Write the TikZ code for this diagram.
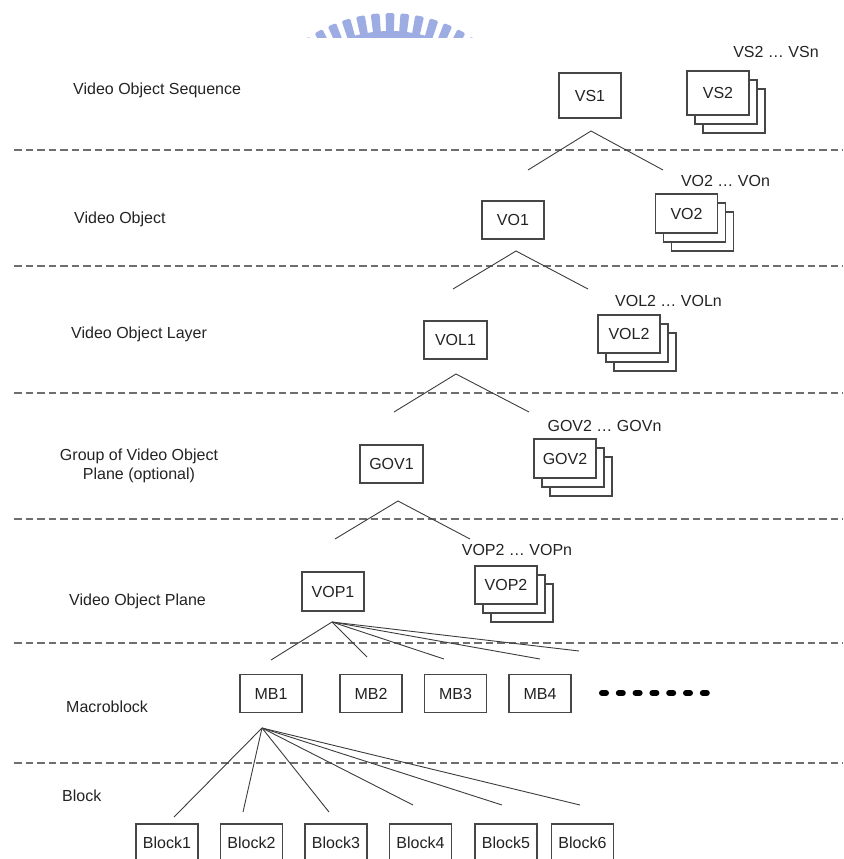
\documentclass[tikz,border=0pt]{standalone}
\usepackage{fontspec}
\setmainfont{Liberation Sans}
\definecolor{boxc}{RGB}{70,70,70}
\definecolor{txt}{RGB}{35,35,35}
\definecolor{dashc}{RGB}{110,110,110}
\definecolor{linec}{RGB}{60,60,60}
\definecolor{wm}{RGB}{158,172,228}
\begin{document}
\begin{tikzpicture}[x=1pt,y=-1pt,
  box/.style={draw=boxc, line width=1.2pt, fill=white, minimum width=62pt,
    minimum height=38pt, inner sep=0pt, text=txt, font=\fontsize{16}{19}\selectfont},
  lbl/.style={inner sep=0pt, text=txt, font=\fontsize{16}{19}\selectfont},
  sep/.style={draw=dashc, line width=1.3pt, dash pattern=on 7.5pt off 4pt},
  tree/.style={draw=linec, line width=0.9pt}]
\useasboundingbox (0,0) rectangle (843,859);

% watermark
\begin{scope}
  \clip (290,0) rectangle (490,38);
  \begin{scope}[shift={(390,163)}]
    \fill[wm] (0,0) circle (132);
    \foreach \k in {-6,...,6}{
      \pgfmathsetmacro{\a}{-90+\k*5.7}
      \fill[wm, rounded corners=1.5pt] (\a-1.7:128) -- (\a-1.7:150) -- (\a+1.7:150) -- (\a+1.7:128) -- cycle;
    }
  \end{scope}
\end{scope}

% separators
\foreach \yy in {150,266,393,519,643,763}{
  \draw[sep] (14,\yy) -- (843,\yy);
}

% level labels
\node[lbl, anchor=west] (l1) at (73,90) {Video Object Sequence};
\node[lbl, anchor=west] (l2) at (74,219) {Video Object};
\node[lbl, anchor=west] (l3) at (71,334) {Video Object Layer};
\node[lbl, align=center] (l4) at (139,466) {Group of Video Object\\Plane (optional)};
\node[lbl, anchor=west] (l5) at (69,601) {Video Object Plane};
\node[lbl, anchor=west] (l6) at (66,707) {Macroblock};
\node[lbl, anchor=west] (l7) at (62,796) {Block};

% first-of-level boxes
\node[box, minimum height=45pt] (vs1) at (590,95.5) {VS1};
\node[box] (vo1) at (513,220) {VO1};
\node[box, minimum width=63pt] (vol1) at (455.5,340) {VOL1};
\node[box, minimum width=63pt] (gov1) at (391.5,464) {GOV1};
\node[box, minimum height=39pt] (vop1) at (333,591.5) {VOP1};

% stacks
\node[box, minimum height=44pt] (vs2c) at (734,111) {};
\node[box, minimum height=44pt] (vs2b) at (726,102) {};
\node[box, minimum height=44pt] (vs2) at (718,93) {VS2};
\node[lbl] (vs2l) at (776,52) {VS2 … VSn};

\node[box, minimum height=39pt] (vo2c) at (702.5,231.5) {};
\node[box, minimum height=39pt] (vo2b) at (694.5,222.5) {};
\node[box, minimum height=39pt] (vo2) at (686.5,213.5) {VO2};
\node[lbl] (vo2l) at (725.5,181) {VO2 … VOn};

\node[box] (vol2c) at (645,352) {};
\node[box] (vol2b) at (637,343) {};
\node[box] (vol2) at (629,334) {VOL2};
\node[lbl] (vol2l) at (668.5,301) {VOL2 … VOLn};

\node[box, minimum height=39pt] (gov2c) at (581,476.5) {};
\node[box, minimum height=39pt] (gov2b) at (573,467.5) {};
\node[box, minimum height=39pt] (gov2) at (565,458.5) {GOV2};
\node[lbl] (gov2l) at (604.5,426) {GOV2 … GOVn};

\node[box] (vop2c) at (522,603) {};
\node[box] (vop2b) at (514,594) {};
\node[box] (vop2) at (506,585) {VOP2};
\node[lbl] (vop2l) at (517,550) {VOP2 … VOPn};

% macroblocks
\node[box] (mb1) at (271,693.5) {MB1};
\node[box] (mb2) at (371,693.5) {MB2};
\node[box] (mb3) at (455.5,693.5) {MB3};
\node[box] (mb4) at (540,693.5) {MB4};
\foreach \i in {0,...,6}{
  \draw[line width=6pt, line cap=round, black] (602+\i*16.8,693) -- (606+\i*16.8,693);
}

% blocks
\node[box] (b1) at (167,843) {Block1};
\node[box] (b2) at (251.5,843) {Block2};
\node[box] (b3) at (336,843) {Block3};
\node[box] (b4) at (420.5,843) {Block4};
\node[box] (b5) at (506,843) {Block5};
\node[box] (b6) at (582.5,843) {Block6};

% tree connectors
\coordinate (vs1a) at (591,131);
\coordinate (vs1l) at (528,170);
\coordinate (vs1r) at (663,170);
\draw[tree] (vs1l) -- (vs1a) -- (vs1r);

\coordinate (vo1a) at (516,251);
\coordinate (vo1l) at (453,289);
\coordinate (vo1r) at (588,289);
\draw[tree] (vo1l) -- (vo1a) -- (vo1r);

\coordinate (vol1a) at (456,374);
\coordinate (vol1l) at (394,412);
\coordinate (vol1r) at (529,412);
\draw[tree] (vol1l) -- (vol1a) -- (vol1r);

\coordinate (gov1a) at (398,501);
\coordinate (gov1l) at (335,539);
\coordinate (gov1r) at (470,539);
\draw[tree] (gov1l) -- (gov1a) -- (gov1r);

\coordinate (vop1a) at (332,622);
\coordinate (m1) at (271,660);
\coordinate (m2) at (367,657);
\coordinate (m3) at (444,659);
\coordinate (m4) at (540,659);
\coordinate (m5) at (579,651);
\foreach \e in {m1,m2,m3,m4,m5}{ \draw[tree] (vop1a) -- (\e); }

\coordinate (mb1a) at (262,728);
\coordinate (k1) at (174,817);
\coordinate (k2) at (243,812);
\coordinate (k3) at (329,812);
\coordinate (k4) at (413,805);
\coordinate (k5) at (502,805);
\coordinate (k6) at (580,805);
\foreach \e in {k1,k2,k3,k4,k5,k6}{ \draw[tree] (mb1a) -- (\e); }
\end{tikzpicture}
\end{document}
